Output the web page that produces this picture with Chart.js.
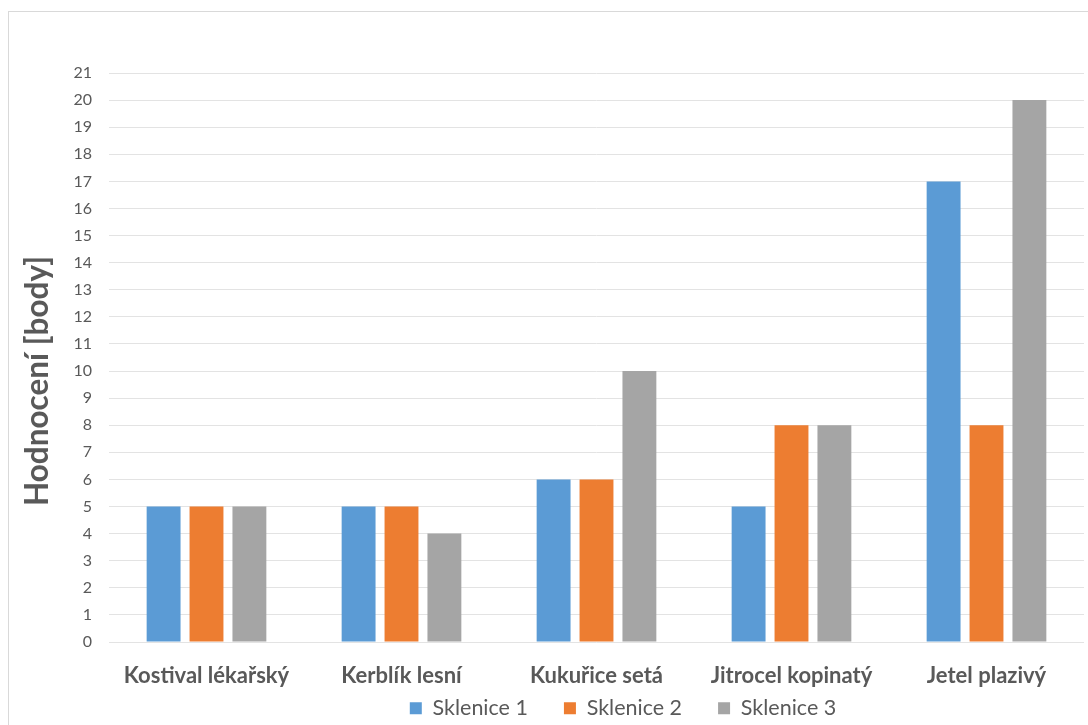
<!DOCTYPE html>
<html>
<head>
<meta charset="utf-8">
<script src="https://cdn.jsdelivr.net/npm/chart.js@4"></script>
<style>
  html, body { margin: 0; padding: 0; background: #fff; overflow: hidden; }
  #frame { position: absolute; left: 8px; top: 11px; width: 1200px; height: 800px; border: 1px solid #d9d9d9; }
  #wrap { position: absolute; left: 0; top: 0; width: 1088px; height: 725px; }
</style>
</head>
<body>
<div id="frame"></div>
<div id="wrap"><canvas id="mycanvas" width="1088" height="725"></canvas></div>
<script>
var categories = ['Kostival lékařský', 'Kerblík lesní', 'Kukuřice setá', 'Jitrocel kopinatý', 'Jetel plazivý'];
var sklenice1 = [5, 5, 6, 5, 17];
var sklenice2 = [5, 5, 6, 8, 8];
var sklenice3 = [5, 4, 10, 8, 20];
var seriesNames = ['Sklenice 1', 'Sklenice 2', 'Sklenice 3'];
var colors = ['#5b9bd5', '#ed7d31', '#a5a5a5'];
var yTitle = 'Hodnocení [body]';

var textColor = '#595959';
var fontFamily = 'Lato, "Open Sans", sans-serif';

var chartdata = {
  labels: categories,
  datasets: [sklenice1, sklenice2, sklenice3].map(function(values, i) {
    return {
      label: seriesNames[i],
      data: values,
      backgroundColor: colors[i],
      borderWidth: 0,
      categoryPercentage: 0.66,
      barPercentage: 0.79
    };
  })
};

// y title sits a bit below the plot middle, legend a bit right of centre
var sheetLayout = {
  id: 'sheetLayout',
  afterLayout: function(chart) {
    var lg = chart.legend;
    lg.left += 152;
    lg.top = 661.5;
    lg.bottom = 725;
  },
  afterDraw: function(chart) {
    var c = chart.ctx;
    c.save();
    c.translate(38, 381);
    c.rotate(-Math.PI / 2);
    c.font = 'bold 31.5px ' + fontFamily;
    c.fillStyle = textColor;
    c.textAlign = 'center';
    c.textBaseline = 'middle';
    c.fillText(yTitle, 0, 0);
    c.restore();
  }
};

var ctx = document.getElementById('mycanvas');

var barGraph = new Chart(ctx, {
  type: 'bar',
  data: chartdata,
  plugins: [sheetLayout],
  options: {
    responsive: false,
    animation: false,
    layout: { padding: { top: 73, left: 10, right: 4, bottom: 0 } },
    plugins: {
      tooltip: { enabled: false },
      legend: {
        position: 'bottom',
        maxHeight: 35,
        labels: {
          boxWidth: 12,
          boxHeight: 12,
          padding: 36,
          color: textColor,
          font: { family: fontFamily, size: 21.5 }
        }
      }
    },
    scales: {
      x: {
        afterFit: function(scale) { scale.height = 48; },
        grid: { display: false, drawTicks: false },
        border: { display: false },
        ticks: {
          color: textColor,
          padding: 21,
          maxRotation: 0,
          font: { family: fontFamily, size: 22, weight: 'bold' }
        }
      },
      y: {
        min: 0,
        max: 21,
        afterFit: function(scale) { scale.width = 99; },
        grid: { color: '#e3e3e3', drawTicks: false },
        border: { display: false },
        ticks: {
          stepSize: 1,
          padding: 17,
          color: textColor,
          font: { family: fontFamily, size: 16 }
        }
      }
    }
  }
});
</script>
</body>
</html>
